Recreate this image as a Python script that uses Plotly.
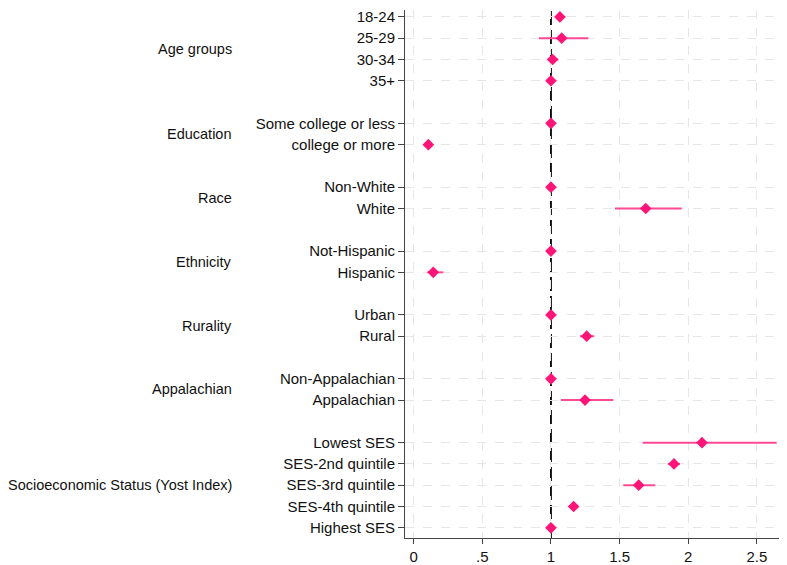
import plotly.graph_objects as go

# Data
labels = ["18-24", "25-29", "30-34", "35+",
          "Some college or less", "college or more",
          "Non-White", "White",
          "Not-Hispanic", "Hispanic",
          "Urban", "Rural",
          "Non-Appalachian", "Appalachian",
          "Lowest SES", "SES-2nd quintile", "SES-3rd quintile", "SES-4th quintile", "Highest SES"]
positions = [0, 1, 2, 3, 5, 6, 8, 9, 11, 12, 14, 15, 17, 18, 20, 21, 22, 23, 24]
estimate = [1.065, 1.078, 1.012, 1.0, 1.0, 0.107, 1.0, 1.69, 1.0, 0.143, 1.0, 1.26,
            1.0, 1.248, 2.10, 1.896, 1.639, 1.165, 1.0]
ci_low = [1.037, 0.913, 0.98, 1.0, 1.0, 0.10, 1.0, 1.466, 1.0, 0.099, 1.0, 1.211,
          1.0, 1.073, 1.668, 1.85, 1.527, 1.15, 1.0]
ci_high = [1.103, 1.272, 1.053, 1.0, 1.0, 0.115, 1.0, 1.952, 1.0, 0.216, 1.0, 1.315,
           1.0, 1.454, 2.644, 1.94, 1.76, 1.18, 1.0]

groups = ["Age groups", "Education", "Race", "Ethnicity", "Rurality", "Appalachian",
          "Socioeconomic Status (Yost Index)"]
group_pos = [1.5, 5.5, 8.5, 11.5, 14.5, 17.5, 22]

x_ticks = [0, 0.5, 1, 1.5, 2, 2.5]
x_ticktext = ["0", ".5", "1", "1.5", "2", "2.5"]

FONT = "Liberation Sans, Arial, Helvetica, sans-serif"

plus = [h - e for h, e in zip(ci_high, estimate)]
minus = [e - l for e, l in zip(estimate, ci_low)]

fig = go.Figure()
fig.add_trace(go.Scatter(
    x=estimate, y=positions, mode="markers",
    marker=dict(symbol="diamond", size=9, color="#ff1478"),
    error_x=dict(type="data", symmetric=False, array=plus, arrayminus=minus,
                 color="#ff4a93", thickness=2, width=0),
    showlegend=False, hoverinfo="x+y"))

fig.add_shape(type="line", xref="x", yref="paper", x0=1, x1=1, y0=0, y1=1,
              line=dict(color="black", width=1.8, dash="14px,5px"), layer="below")

for g, p in zip(groups, group_pos):
    fig.add_annotation(text=g, xref="paper", yref="y", x=-0.4476, y=p,
                       xanchor="right", yanchor="middle", showarrow=False,
                       font=dict(family=FONT, size=14.5, color="#111111"))

fig.update_layout(
    width=779, height=557,
    margin=dict(l=397, r=0, t=0, b=22),
    paper_bgcolor="white", plot_bgcolor="white",
    font=dict(family=FONT, size=15, color="#111111"),
    xaxis=dict(range=[-0.063, 2.719], tickvals=x_ticks, ticktext=x_ticktext,
               showgrid=True, gridcolor="#e6e6e6", griddash="dash", gridwidth=1,
               zeroline=False, showline=True, linecolor="#444444", linewidth=1,
               ticks="outside", ticklen=5, tickcolor="#444444",
               ticklabeloverflow="allow",
               tickfont=dict(family=FONT, size=15, color="#111111")),
    yaxis=dict(range=[24.48, -0.3245], tickvals=positions, ticktext=labels,
               showgrid=True, gridcolor="#e6e6e6", griddash="dash", gridwidth=1,
               zeroline=False, showline=True, linecolor="#444444", linewidth=1,
               ticks="outside", ticklen=6, tickcolor="#444444",
               ticklabeloverflow="allow",
               tickfont=dict(family=FONT, size=15, color="#111111")),
)

fig.write_html("out.html")
